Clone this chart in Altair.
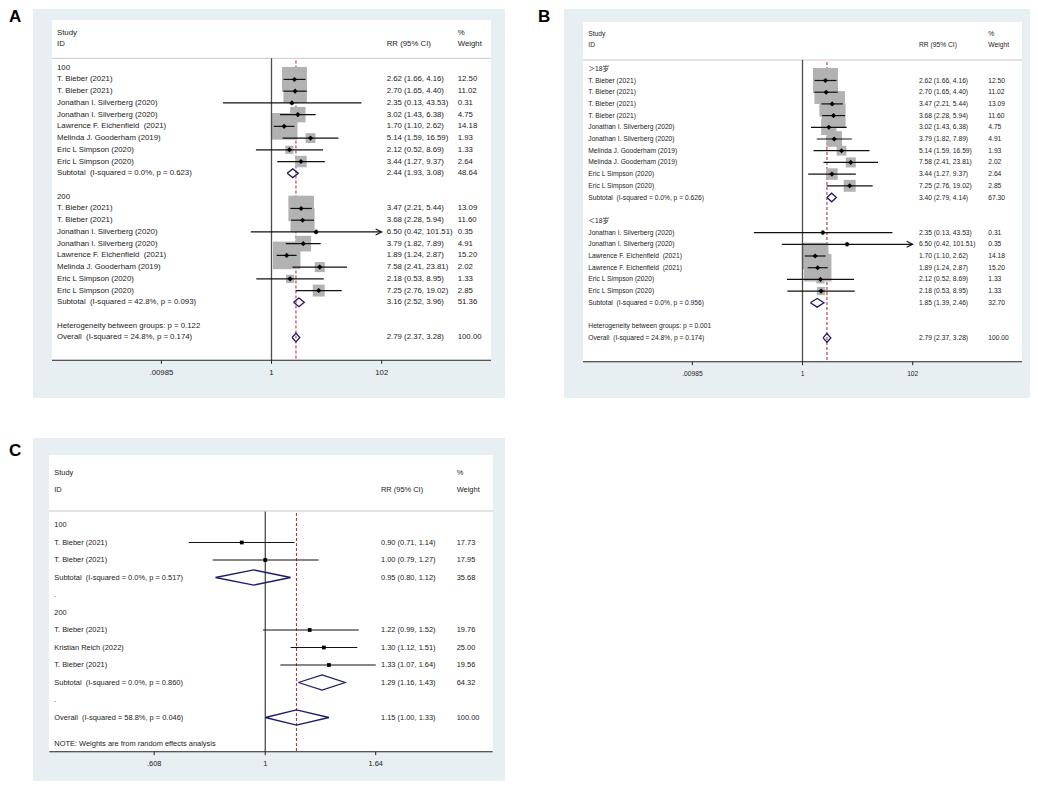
import altair as alt
import pandas as pd

NB = "\u00a0"

# ---------------- data: panel A ----------------
A_group_labels = ["100", "200"]
A_group_rows = [0, 11]
A_names = ["T. Bieber (2021)", "T. Bieber (2021)", "Jonathan I. Silverberg (2020)",
           "Jonathan I. Silverberg (2020)", "Lawrence F. Eichenfield" + NB + " (2021)",
           "Melinda J. Gooderham (2019)", "Eric L Simpson (2020)", "Eric L Simpson (2020)",
           "T. Bieber (2021)", "T. Bieber (2021)", "Jonathan I. Silverberg (2020)",
           "Jonathan I. Silverberg (2020)", "Lawrence F. Eichenfield" + NB + " (2021)",
           "Melinda J. Gooderham (2019)", "Eric L Simpson (2020)", "Eric L Simpson (2020)"]
A_rows = [1, 2, 3, 4, 5, 6, 7, 8, 12, 13, 14, 15, 16, 17, 18, 19]
A_rr = [2.62, 2.70, 2.35, 3.02, 1.70, 5.14, 2.12, 3.44, 3.47, 3.68, 6.50, 3.79, 1.89, 7.58, 2.18, 7.25]
A_lo = [1.66, 1.65, 0.13, 1.43, 1.10, 1.59, 0.52, 1.27, 2.21, 2.28, 0.42, 1.82, 1.24, 2.41, 0.53, 2.76]
A_hi = [4.16, 4.40, 43.53, 6.38, 2.62, 16.59, 8.69, 9.37, 5.44, 5.94, 101.51, 7.89, 2.87, 23.81, 8.95, 19.02]
A_w = [12.50, 11.02, 0.31, 4.75, 14.18, 1.93, 1.33, 2.64, 13.09, 11.60, 0.35, 4.91, 15.20, 2.02, 1.33, 2.85]
A_sum_labels = ["Subtotal" + NB + " (I-squared = 0.0%, p = 0.623)",
                "Subtotal" + NB + " (I-squared = 42.8%, p = 0.093)",
                "Overall" + NB + " (I-squared = 24.8%, p = 0.174)"]
A_sum_rows = [9, 20, 23]
A_sum_rr = [2.44, 3.16, 2.79]
A_sum_lo = [1.93, 2.52, 2.37]
A_sum_hi = [3.08, 3.96, 3.28]
A_sum_w = [48.64, 51.36, 100.00]
A_notes = ["Heterogeneity between groups: p = 0.122"]
A_note_rows = [22]
A_overall = 2.79
A_ticks = [0.00985, 1, 102]
A_tick_labels = [".00985", "1", "102"]

# ---------------- data: panel B ----------------
B_group_labels = ["＞18岁", "＜18岁"]
B_group_rows = [0, 13]
B_names = ["T. Bieber (2021)", "T. Bieber (2021)", "T. Bieber (2021)", "T. Bieber (2021)",
           "Jonathan I. Silverberg (2020)", "Jonathan I. Silverberg (2020)",
           "Melinda J. Gooderham (2019)", "Melinda J. Gooderham (2019)",
           "Eric L Simpson (2020)", "Eric L Simpson (2020)",
           "Jonathan I. Silverberg (2020)", "Jonathan I. Silverberg (2020)",
           "Lawrence F. Eichenfield" + NB + " (2021)", "Lawrence F. Eichenfield" + NB + " (2021)",
           "Eric L Simpson (2020)", "Eric L Simpson (2020)"]
B_rows = [1, 2, 3, 4, 5, 6, 7, 8, 9, 10, 14, 15, 16, 17, 18, 19]
B_rr = [2.62, 2.70, 3.47, 3.68, 3.02, 3.79, 5.14, 7.58, 3.44, 7.25, 2.35, 6.50, 1.70, 1.89, 2.12, 2.18]
B_lo = [1.66, 1.65, 2.21, 2.28, 1.43, 1.82, 1.59, 2.41, 1.27, 2.76, 0.13, 0.42, 1.10, 1.24, 0.52, 0.53]
B_hi = [4.16, 4.40, 5.44, 5.94, 6.38, 7.89, 16.59, 23.81, 9.37, 19.02, 43.53, 101.51, 2.62, 2.87, 8.69, 8.95]
B_w = [12.50, 11.02, 13.09, 11.60, 4.75, 4.91, 1.93, 2.02, 2.64, 2.85, 0.31, 0.35, 14.18, 15.20, 1.33, 1.33]
B_sum_labels = ["Subtotal" + NB + " (I-squared = 0.0%, p = 0.626)",
                "Subtotal" + NB + " (I-squared = 0.0%, p = 0.956)",
                "Overall" + NB + " (I-squared = 24.8%, p = 0.174)"]
B_sum_rows = [11, 20, 23]
B_sum_rr = [3.40, 1.85, 2.79]
B_sum_lo = [2.79, 1.39, 2.37]
B_sum_hi = [4.14, 2.46, 3.28]
B_sum_w = [67.30, 32.70, 100.00]
B_notes = ["Heterogeneity between groups: p = 0.001"]
B_note_rows = [22]
B_overall = 2.79
B_ticks = [0.00985, 1, 102]
B_tick_labels = [".00985", "1", "102"]

# ---------------- data: panel C ----------------
C_group_labels = ["100", "200"]
C_group_rows = [0, 5]
C_names = ["T. Bieber (2021)", "T. Bieber (2021)", "T. Bieber (2021)",
           "Kristian Reich (2022)", "T. Bieber (2021)"]
C_rows = [1, 2, 6, 7, 8]
C_rr = [0.90, 1.00, 1.22, 1.30, 1.33]
C_lo = [0.71, 0.79, 0.99, 1.12, 1.07]
C_hi = [1.14, 1.27, 1.52, 1.51, 1.64]
C_w = [17.73, 17.95, 19.76, 25.00, 19.56]
C_sum_labels = ["Subtotal" + NB + " (I-squared = 0.0%, p = 0.517)",
                "Subtotal" + NB + " (I-squared = 0.0%, p = 0.860)",
                "Overall" + NB + " (I-squared = 58.8%, p = 0.046)"]
C_sum_rows = [3, 9, 11]
C_sum_rr = [0.95, 1.29, 1.15]
C_sum_lo = [0.80, 1.16, 1.00]
C_sum_hi = [1.12, 1.43, 1.33]
C_sum_w = [35.68, 64.32, 100.00]
C_notes = [".", ".", "NOTE: Weights are from random effects analysis"]
C_note_rows = [4, 10, 12.5]
C_overall = 1.15
C_ticks = [0.608, 1, 1.64]
C_tick_labels = [".608", "1", "1.64"]

# ---------------- layout (page pixels) ----------------
OFF = 8
FONT = "Liberation Sans, Arial, Noto Sans CJK SC"
BG = "#e8eff2"
TXT = "#222222"

LAYOUT = {
    "A": dict(letter=(9, 21), outer=(33, 8, 505, 397), inner=(52, 19, 491, 359.3),
              sep_y=57.3, null_top=57.3, ref_top=59.5, axis_y=359.3, tick_lab_y=372.3,
              xdom=[1e-4, 1e4], xr=(52, 491), row0=66.7, step=11.73, fs=7.8,
              col_name=57, col_rr=386.7, col_w=457.7, box=True, dia_h=0.37, pt="diamond"),
    "B": dict(letter=(538, 21), outer=(564, 8, 1030, 397), inner=(583, 21, 1022, 360.7),
              sep_y=59, null_top=59, ref_top=61, axis_y=360.7, tick_lab_y=373.3,
              xdom=[1e-4, 1e4], xr=(583, 1022), row0=67.8, step=11.7, fs=6.7,
              col_name=588.3, col_rr=919, col_w=988.3, box=True, dia_h=0.37, pt="diamond"),
    "C": dict(letter=(9, 455), outer=(33, 437, 505, 780), inner=(49, 454, 493, 750.7),
              sep_y=510, null_top=510.5, ref_top=512, axis_y=750.7, tick_lab_y=763.3,
              xdom=[0.38, 2.77], xr=(49.3, 492.7), row0=524, step=17.5, fs=7.45,
              col_name=54.3, col_rr=381, col_w=456.7, box=False, dia_h=0.43, pt="square"),
}

PANELS = {
    "A": dict(gl=A_group_labels, gr=A_group_rows, names=A_names, rows=A_rows, rr=A_rr, lo=A_lo,
              hi=A_hi, w=A_w, sl=A_sum_labels, sr=A_sum_rows, srr=A_sum_rr, slo=A_sum_lo,
              shi=A_sum_hi, sw=A_sum_w, notes=A_notes, nr=A_note_rows, overall=A_overall,
              ticks=A_ticks, tl=A_tick_labels),
    "B": dict(gl=B_group_labels, gr=B_group_rows, names=B_names, rows=B_rows, rr=B_rr, lo=B_lo,
              hi=B_hi, w=B_w, sl=B_sum_labels, sr=B_sum_rows, srr=B_sum_rr, slo=B_sum_lo,
              shi=B_sum_hi, sw=B_sum_w, notes=B_notes, nr=B_note_rows, overall=B_overall,
              ticks=B_ticks, tl=B_tick_labels),
    "C": dict(gl=C_group_labels, gr=C_group_rows, names=C_names, rows=C_rows, rr=C_rr, lo=C_lo,
              hi=C_hi, w=C_w, sl=C_sum_labels, sr=C_sum_rows, srr=C_sum_rr, slo=C_sum_lo,
              shi=C_sum_hi, sw=C_sum_w, notes=C_notes, nr=C_note_rows, overall=C_overall,
              ticks=C_ticks, tl=C_tick_labels),
}

ONE = pd.DataFrame({"k": [0]})
ARROW = "M-1,-0.5L0,0L-1,0.5"


def v(p):
    return alt.value(p - OFF)


def panel_layers(key):
    L = LAYOUT[key]
    d = PANELS[key]
    xs = alt.Scale(type="log", domain=L["xdom"], range=[L["xr"][0] - OFF, L["xr"][1] - OFF], nice=False)
    ys = alt.Scale(type="linear", domain=[0, 10],
                   range=[L["row0"] - OFF, L["row0"] + 10 * L["step"] - OFF], nice=False, zero=False)

    def X(f):
        return alt.X(f, type="quantitative", scale=xs, axis=None)

    def Y(f="row"):
        return alt.Y(f, type="quantitative", scale=ys, axis=None)

    def txt(df, col, align="left", **kw):
        return alt.Chart(df).mark_text(align=align, baseline="middle", font=FONT,
                                       fontSize=L["fs"], color=TXT, **kw).encode(
            x=v(col), y=Y(), text="text:N")

    studies = pd.DataFrame({"row": d["rows"], "name": d["names"], "rr": d["rr"],
                            "lo": d["lo"], "hi": d["hi"], "w": d["w"]})
    sums = pd.DataFrame({"row": d["sr"], "name": d["sl"], "rr": d["srr"],
                         "lo": d["slo"], "hi": d["shi"], "w": d["sw"]})
    allr = pd.concat([studies, sums], ignore_index=True)
    allr["ci"] = [f"{a:.2f} ({b:.2f}, {c:.2f})" for a, b, c in zip(allr.rr, allr.lo, allr.hi)]
    allr["wt"] = [f"{x:.2f}" for x in allr.w]

    layers = []
    ox0, oy0, ox1, oy1 = L["outer"]
    ix0, iy0, ix1, iy1 = L["inner"]
    layers.append(alt.Chart(ONE).mark_rect(color=BG).encode(x=v(ox0), x2=v(ox1), y=v(oy0), y2=v(oy1)))
    layers.append(alt.Chart(ONE).mark_rect(color="#ffffff").encode(x=v(ix0), x2=v(ix1), y=v(iy0), y2=v(iy1)))
    layers.append(alt.Chart(ONE).mark_rule(color="#c9c9c9", strokeWidth=1).encode(
        x=v(ix0), x2=v(ix1), y=v(L["sep_y"])))
    # overall reference (dashed)
    layers.append(alt.Chart(pd.DataFrame({"x": [d["overall"]]})).mark_rule(
        color="#b8323c", strokeWidth=1.1, strokeDash=[3, 2]).encode(
        x=X("x"), y=v(L["ref_top"]), y2=v(L["axis_y"])))
    # weight boxes
    if L["box"]:
        layers.append(alt.Chart(studies).mark_square(color="#b2b2b2", opacity=1).encode(
            x=X("rr"), y=Y(),
            size=alt.Size("w", type="quantitative",
                          scale=alt.Scale(type="linear", domain=[0, 1], range=[0, 50]), legend=None)))
    # null line
    layers.append(alt.Chart(pd.DataFrame({"x": [1]})).mark_rule(color="#4d4d4d", strokeWidth=1.3).encode(
        x=X("x"), y=v(L["null_top"]), y2=v(L["axis_y"])))
    # CI lines
    layers.append(alt.Chart(studies).mark_rule(color="#111111", strokeWidth=1.2).encode(
        x=X("lo"), x2=alt.X2("hi"), y=Y()))
    arrows = studies[studies.hi > 100]
    if len(arrows):
        layers.append(alt.Chart(arrows).mark_point(shape=ARROW, filled=False, color="#111111",
                                                   strokeWidth=1.2, size=144, opacity=1).encode(
            x=X("hi"), y=Y()))
    # point estimates
    if L["pt"] == "diamond":
        layers.append(alt.Chart(studies).mark_point(shape="diamond", filled=True, color="#000000",
                                                    size=26, opacity=1).encode(x=X("rr"), y=Y()))
    else:
        layers.append(alt.Chart(studies).mark_square(color="#000000", size=14, opacity=1).encode(
            x=X("rr"), y=Y()))
    # summary diamonds
    h = L["dia_h"]
    pts = []
    for i, r in sums.iterrows():
        for o, (xx, yy) in enumerate([(r.lo, r.row), (r.rr, r.row - h), (r.hi, r.row),
                                      (r.rr, r.row + h), (r.lo, r.row)]):
            pts.append({"id": i, "ord": o, "x": xx, "row": yy})
    layers.append(alt.Chart(pd.DataFrame(pts)).mark_line(color="#1b1b6b", strokeWidth=1.3).encode(
        x=X("x"), y=Y(), detail="id:N", order="ord:Q"))
    # text columns
    layers.append(txt(allr.rename(columns={"name": "text"})[["row", "text"]], L["col_name"]))
    layers.append(txt(allr.rename(columns={"ci": "text"})[["row", "text"]], L["col_rr"]))
    layers.append(txt(allr.rename(columns={"wt": "text"})[["row", "text"]], L["col_w"]))
    groups = pd.DataFrame({"row": d["gr"] + d["nr"], "text": d["gl"] + d["notes"]})
    layers.append(txt(groups, L["col_name"]))
    layers.append(txt(pd.DataFrame({"row": [-3, -2], "text": ["Study", "ID"]}), L["col_name"]))
    layers.append(txt(pd.DataFrame({"row": [-2], "text": ["RR (95% CI)"]}), L["col_rr"]))
    layers.append(txt(pd.DataFrame({"row": [-3, -2], "text": ["%", "Weight"]}), L["col_w"]))
    # axis
    layers.append(alt.Chart(ONE).mark_rule(color="#222222", strokeWidth=1.1).encode(
        x=v(L["xr"][0]), x2=v(L["xr"][1]), y=v(L["axis_y"])))
    tdf = pd.DataFrame({"t": d["ticks"], "text": d["tl"]})
    layers.append(alt.Chart(tdf).mark_rule(color="#222222", strokeWidth=1).encode(
        x=X("t"), y=v(L["axis_y"]), y2=v(L["axis_y"] + 3.5)))
    layers.append(alt.Chart(tdf).mark_text(align="center", baseline="middle", font=FONT,
                                           fontSize=L["fs"], color=TXT).encode(
        x=X("t"), y=v(L["tick_lab_y"]), text="text:N"))
    # panel letter
    layers.append(alt.Chart(pd.DataFrame({"text": [key]})).mark_text(
        align="left", baseline="alphabetic", font="Liberation Sans, Arial", fontSize=17,
        fontWeight="bold", color="#000000").encode(
        x=v(L["letter"][0]), y=v(L["letter"][1]), text="text:N"))
    return layers


all_layers = panel_layers("A") + panel_layers("B") + panel_layers("C")

chart = alt.layer(*all_layers).resolve_scale(
    x="independent", y="independent", size="independent"
).properties(width=1022, height=772, padding=0).configure_view(stroke=None)

chart.save("out.html", embed_options={"renderer": "svg", "actions": False})
